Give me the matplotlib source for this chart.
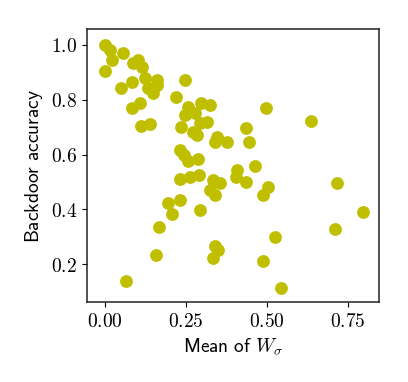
import matplotlib
matplotlib.use('Agg')
import matplotlib.pyplot as plt

plt.rcParams['mathtext.fontset'] = 'cm'

# mean of W_sigma (x) and backdoor accuracy (y)
mean_w = [0.00, 0.015, 0.021, 0.056, 0.00, 0.087, 0.103, 0.113, 0.082, 0.049,
          0.123, 0.160, 0.134, 0.149, 0.160, 0.108, 0.082, 0.110, 0.139, 0.247,
          0.218, 0.255, 0.296, 0.324, 0.247, 0.278, 0.314, 0.293, 0.235, 0.273,
          0.283, 0.345, 0.376, 0.340, 0.231, 0.244, 0.256, 0.288, 0.231, 0.262,
          0.290, 0.334, 0.355, 0.324, 0.340, 0.406, 0.404, 0.435, 0.463, 0.504,
          0.487, 0.496, 0.636, 0.435, 0.444, 0.715, 0.795, 0.710, 0.525, 0.340,
          0.350, 0.334, 0.487, 0.543, 0.194, 0.231, 0.206, 0.293, 0.167, 0.157,
          0.065]
acc = [1.00, 0.982, 0.945, 0.970, 0.905, 0.933, 0.945, 0.921, 0.866, 0.842,
       0.878, 0.872, 0.842, 0.824, 0.854, 0.787, 0.769, 0.704, 0.710, 0.872,
       0.809, 0.775, 0.789, 0.781, 0.744, 0.750, 0.720, 0.714, 0.699, 0.683,
       0.671, 0.665, 0.647, 0.645, 0.618, 0.598, 0.578, 0.582, 0.509, 0.517,
       0.525, 0.507, 0.495, 0.470, 0.452, 0.543, 0.519, 0.498, 0.559, 0.480,
       0.452, 0.769, 0.722, 0.696, 0.645, 0.495, 0.389, 0.327, 0.300, 0.266,
       0.251, 0.223, 0.211, 0.113, 0.422, 0.434, 0.382, 0.397, 0.334, 0.232,
       0.139]

x_ticks = [0.0, 0.25, 0.5, 0.75]
x_labels = ['$0.00$', '$0.25$', '$0.50$', '$0.75$']
y_ticks = [0.2, 0.4, 0.6, 0.8, 1.0]
y_labels = ['$0.2$', '$0.4$', '$0.6$', '$0.8$', '$1.0$']

fig = plt.figure(figsize=(4.08, 3.82), dpi=100)
ax = fig.add_axes([0.213, 0.209, 0.716, 0.715])

ax.scatter(mean_w, acc, s=85, color='y', edgecolors='face', linewidths=0)

ax.set_xlim(-0.056, 0.846)
ax.set_ylim(0.061, 1.058)
ax.set_xticks(x_ticks)
ax.set_xticklabels(x_labels, fontsize=14)
ax.set_yticks(y_ticks)
ax.set_yticklabels(y_labels, fontsize=14)
ax.set_xlabel(r'$\mathsf{Mean\ of}\ W_\sigma$', fontsize=14)
ax.set_ylabel(r'$\mathsf{Backdoor\ accuracy}$', fontsize=14)

for sp in ax.spines.values():
    sp.set_color('#222222')
    sp.set_linewidth(1.1)

fig.savefig('out.png', dpi=100)
